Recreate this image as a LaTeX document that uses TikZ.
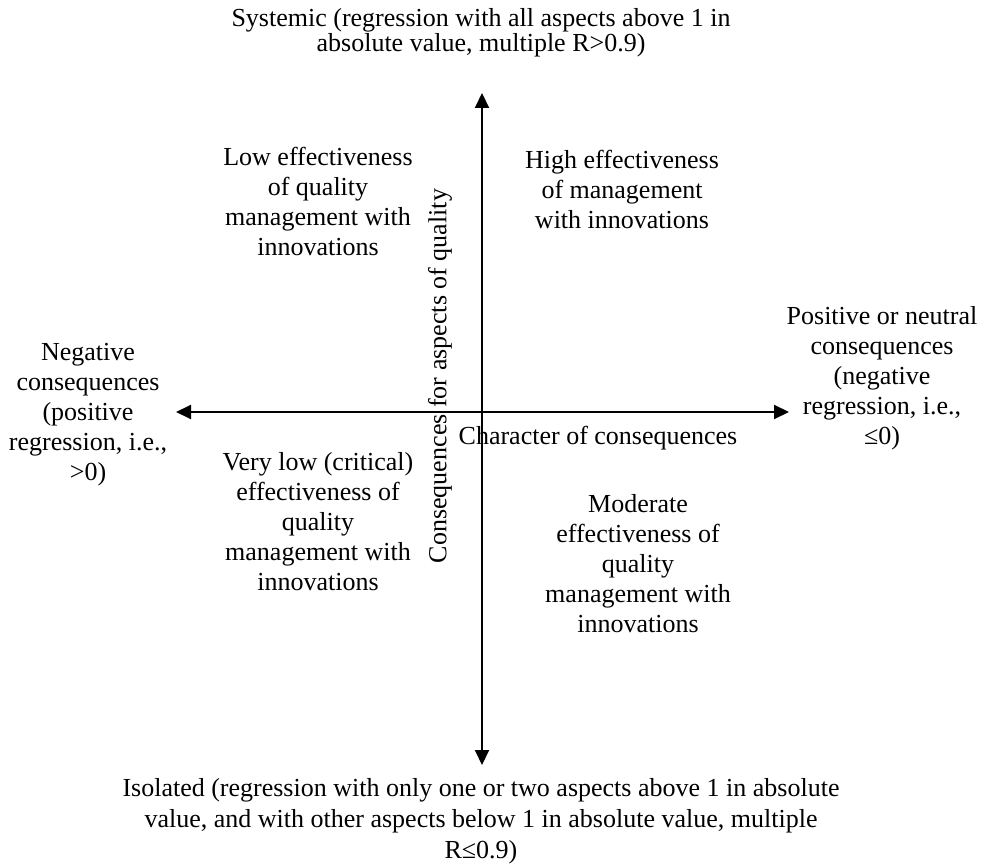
\documentclass[tikz,border=0pt]{standalone}
\usepackage{fontspec}
\setmainfont{Liberation Serif}
\usetikzlibrary{arrows.meta}
\begin{document}
\begin{tikzpicture}[line join = round, line cap = round,>={Triangle[length=15pt,width=14pt]},x=1pt,y=-1pt,
	txt/.style={align=center,inner sep=0pt,font=\fontsize{26}{30}\selectfont},
	axis/.style={line width=2pt,<->}]
	\useasboundingbox (0,0) rectangle (982,866);
	\coordinate (top) at (482,93);
	\coordinate (bottom) at (482,765);
	\coordinate (left) at (176,412);
	\coordinate (right) at (789,412);
	\draw[axis] (bottom) -- (top);
	\draw[axis] (left) -- (right);
	\node[txt,font=\fontsize{26}{25}\selectfont] (systemic) at (481,33) {Systemic (regression with all aspects above 1 in\\absolute value, multiple R>0.9)};
	\node[txt] (low) at (318,201) {Low effectiveness\\of quality\\management with\\innovations};
	\node[txt] (high) at (622,189) {High effectiveness\\of management\\with innovations};
	\node[txt] (negative) at (88,415) {Negative\\consequences\\(positive\\regression, i.e.,\\>0)};
	\node[txt] (positive) at (882,378) {Positive or neutral\\consequences\\(negative\\regression, i.e.,\\≤0)};
	\node[txt] (character) at (598,438) {Character of consequences};
	\node[txt,rotate=90] (aspects) at (440,376) {Consequences for aspects of quality};
	\node[txt] (verylow) at (318,522) {Very low (critical)\\effectiveness of\\quality\\management with\\innovations};
	\node[txt] (moderate) at (638,564) {Moderate\\effectiveness of\\quality\\management with\\innovations};
	\node[txt,font=\fontsize{26}{31}\selectfont] (isolated) at (481,821) {Isolated (regression with only one or two aspects above 1 in absolute\\value, and with other aspects below 1 in absolute value, multiple\\R≤0.9)};
\end{tikzpicture}
\end{document}
